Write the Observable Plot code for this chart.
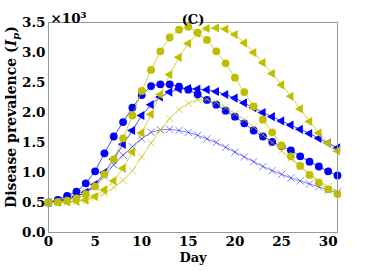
<!DOCTYPE html>
<html>
<head>
<meta charset="utf-8">
<script src="https://cdn.jsdelivr.net/npm/d3@7"></script>
<script src="https://cdn.jsdelivr.net/npm/@observablehq/plot@0.6"></script>
<style>
  html, body { margin: 0; padding: 0; background: #fff; }
  #chart svg { display: block; }
</style>
</head>
<body>
<div id="chart"></div>
<script>
// Values in units of 10^3
const days = d3.range(0, 32);
const xTicks = [0, 5, 10, 15, 20, 25, 30];
const yTicks = [0, 0.5, 1, 1.5, 2, 2.5, 3, 3.5];

const blueCircle = [0.50, 0.545, 0.61, 0.68, 0.82, 1.02, 1.32, 1.60, 1.84, 2.08, 2.29, 2.44, 2.47, 2.47, 2.43, 2.38,
  2.30, 2.21, 2.13, 2.03, 1.93, 1.82, 1.70, 1.60, 1.51, 1.44, 1.37, 1.27, 1.18, 1.10, 1.02, 0.95];
const blueTriangle = [0.50, 0.52, 0.55, 0.60, 0.67, 0.80, 1.00, 1.22, 1.47, 1.70, 1.95, 2.13, 2.26, 2.34, 2.39, 2.40,
  2.39, 2.38, 2.35, 2.30, 2.24, 2.16, 2.08, 2.00, 1.93, 1.86, 1.79, 1.72, 1.65, 1.57, 1.49, 1.41];
const blueCross = [0.50, 0.52, 0.55, 0.60, 0.67, 0.77, 0.94, 1.13, 1.29, 1.43, 1.56, 1.67, 1.71, 1.72, 1.70, 1.67,
  1.62, 1.56, 1.50, 1.42, 1.34, 1.26, 1.18, 1.10, 1.03, 0.97, 0.91, 0.86, 0.81, 0.76, 0.71, 0.66];
const yellowCircle = [0.50, 0.51, 0.53, 0.57, 0.64, 0.77, 0.97, 1.22, 1.57, 1.95, 2.36, 2.71, 3.02, 3.25, 3.38, 3.43,
  3.33, 3.21, 3.02, 2.82, 2.58, 2.34, 2.10, 1.88, 1.67, 1.45, 1.27, 1.11, 0.96, 0.83, 0.72, 0.64];
const yellowTriangle = [0.50, 0.50, 0.51, 0.52, 0.54, 0.60, 0.71, 0.86, 1.07, 1.34, 1.66, 1.97, 2.30, 2.63, 2.92, 3.15,
  3.32, 3.40, 3.41, 3.39, 3.30, 3.16, 3.00, 2.83, 2.65, 2.46, 2.27, 2.06, 1.85, 1.66, 1.49, 1.36];
const yellowCross = [0.50, 0.50, 0.51, 0.52, 0.54, 0.58, 0.65, 0.75, 0.87, 1.03, 1.26, 1.49, 1.71, 1.90, 2.05, 2.15,
  2.21, 2.22, 2.17, 2.08, 1.98, 1.88, 1.76, 1.63, 1.50, 1.36, 1.23, 1.10, 0.97, 0.86, 0.76, 0.68];

const BLUE = "#0000ff";
const YELLOW = "#bfbf00";

const series = [
  {name: "blueCross", values: blueCross, color: BLUE, kind: "x", op: 0.5},
  {name: "blueTriangle", values: blueTriangle, color: BLUE, kind: "tri", op: 1},
  {name: "blueCircle", values: blueCircle, color: BLUE, kind: "circle", op: 1},
  {name: "yellowCircle", values: yellowCircle, color: YELLOW, kind: "circle", op: 1},
  {name: "yellowTriangle", values: yellowTriangle, color: YELLOW, kind: "tri", op: 1},
  {name: "yellowCross", values: yellowCross, color: YELLOW, kind: "x", op: 0.6}
];

const marks = [];
for (const s of series) {
  const data = days.map((d, i) => ({day: d, v: s.values[i]}));
  marks.push(Plot.line(data, {x: "day", y: "v", stroke: s.color, strokeWidth: 1, strokeOpacity: s.kind === "x" ? s.op : 0.7}));
  if (s.kind === "circle") {
    marks.push(Plot.dot(data, {x: "day", y: "v", r: 3.9, fill: s.color, symbol: "circle"}));
  } else if (s.kind === "tri") {
    marks.push(Plot.dot(data, {x: "day", y: "v", r: 3.4, fill: s.color, symbol: "triangle", rotate: -90}));
  } else {
    marks.push(Plot.dot(data, {x: "day", y: "v", r: 3.4, stroke: s.color, strokeWidth: 1, strokeOpacity: s.op, symbol: "times"}));
  }
}

const chart = Plot.plot({
  width: 374,
  height: 273,
  marginLeft: 48,
  marginRight: 37,
  marginTop: 22,
  marginBottom: 41,
  style: {fontFamily: "DejaVu Serif", fontWeight: "bold", fontSize: "13px", color: "#000", background: "#fff"},
  x: {domain: [0, 31], ticks: xTicks, label: null},
  y: {domain: [0, 3.5], ticks: yTicks, label: null},
  marks: [
    Plot.axisX({ticks: xTicks, tickSize: 0, tickPadding: 4, tickFormat: d => String(d), fontSize: 13.5, fontWeight: "bold"}),
    Plot.axisY({ticks: yTicks, tickSize: 0, tickPadding: 3, tickFormat: d3.format(".1f"), fontSize: 13.5, fontWeight: "bold"}),
    ...marks,
    Plot.frame({stroke: "#999", strokeWidth: 1}),
    Plot.text(["(C)"], {frameAnchor: "top", dy: -8, fontSize: 13, fontWeight: "bold"}),
    Plot.text(["×10³"], {frameAnchor: "top-left", textAnchor: "start", dy: -9, dx: 2, fontSize: 13.5, fontWeight: "bold"}),
    Plot.text(["Day"], {frameAnchor: "bottom", dy: 29, fontSize: 13, fontWeight: "bold"})
  ]
});

const svg = d3.select(chart);
const t = svg.append("text")
  .attr("transform", "translate(16,117) rotate(-90)")
  .attr("text-anchor", "middle")
  .attr("font-family", "DejaVu Serif")
  .attr("font-weight", "bold")
  .attr("font-size", 14)
  .attr("fill", "#000");
t.append("tspan").text("Disease prevalence (");
t.append("tspan").attr("font-style", "italic").text("I");
t.append("tspan").attr("font-style", "italic").attr("font-size", 10).attr("dy", 3).text("p");
t.append("tspan").attr("dy", -3).text(")");

document.getElementById("chart").appendChild(chart);
</script>
</body>
</html>
